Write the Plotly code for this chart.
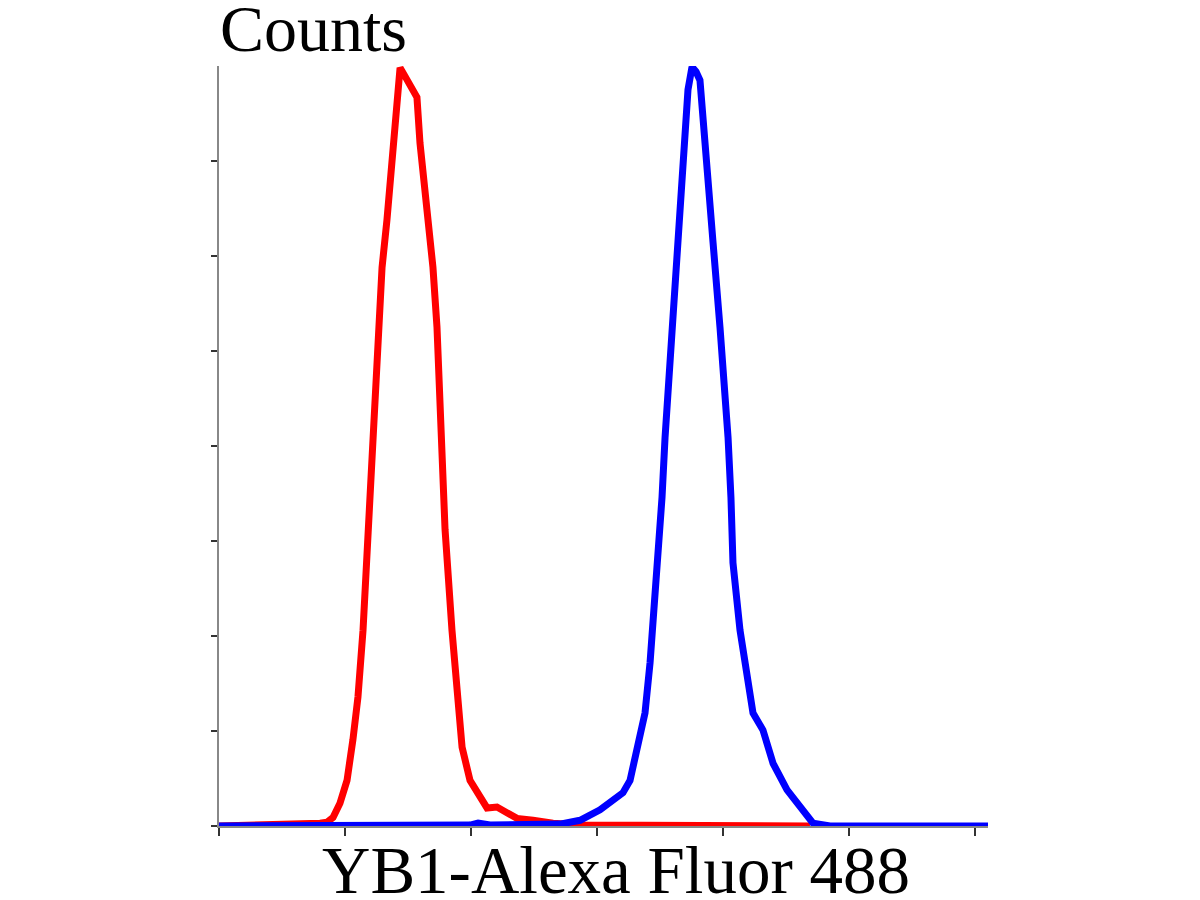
import plotly.graph_objects as go

# Red histogram (control): fluorescence position (decade units) vs counts (axis units)
red_x = [0.0, 0.683, 0.802, 0.857, 0.905, 0.960, 1.016, 1.063, 1.103, 1.143, 1.183, 1.222,
         1.254, 1.294, 1.333, 1.373, 1.405, 1.437, 1.460, 1.516, 1.571, 1.595, 1.651, 1.698,
         1.730, 1.754, 1.770, 1.794, 1.849, 1.889, 1.929, 1.992, 2.071, 2.127, 2.206, 2.286,
         2.365, 2.492, 2.651, 2.865, 4.690]
red_y = [0.0, 0.01, 0.03, 0.04, 0.09, 0.24, 0.48, 0.91, 1.36, 2.06, 3.12, 4.09,
         5.08, 5.88, 6.38, 7.01, 7.59, 7.98, 7.93, 7.80, 7.67, 7.19, 6.48, 5.88,
         5.25, 4.56, 4.09, 3.12, 2.06, 1.36, 0.83, 0.48, 0.31, 0.19, 0.20, 0.14,
         0.08, 0.06, 0.03, 0.01, 0.0]

# Blue histogram (YB1 stained)
blue_x = [0.0, 1.992, 2.056, 2.151, 2.706, 2.865, 3.024, 3.206, 3.262, 3.317, 3.381, 3.421,
          3.460, 3.484, 3.516, 3.540, 3.563, 3.603, 3.643, 3.683, 3.722, 3.754, 3.786, 3.817,
          3.873, 3.921, 3.976, 4.016, 4.040, 4.063, 4.079, 4.135, 4.190, 4.238, 4.317, 4.397,
          4.508, 4.611, 4.714, 4.849, 6.103]
blue_y = [0.0, 0.01, 0.03, 0.01, 0.02, 0.06, 0.17, 0.35, 0.48, 0.83, 1.19, 1.72,
          2.41, 2.94, 3.46, 4.09, 4.56, 5.25, 5.96, 7.01, 7.75, 7.99, 7.94, 7.85,
          7.01, 6.14, 5.25, 4.56, 4.09, 3.46, 2.77, 2.06, 1.54, 1.19, 1.01, 0.66,
          0.38, 0.20, 0.03, 0.0, 0.0]

x_ticks = [0, 1, 2, 3, 4, 5, 6]
y_ticks = [0, 1, 2, 3, 4, 5, 6, 7]
x_title = "YB1-Alexa Fluor 488"
y_title = "Counts"

fig = go.Figure()
fig.add_trace(go.Scatter(x=red_x, y=red_y, mode="lines",
                         line=dict(color="#ff0000", width=7), showlegend=False))
fig.add_trace(go.Scatter(x=blue_x, y=blue_y, mode="lines",
                         line=dict(color="#0000ff", width=7), showlegend=False))

fig.update_layout(
    width=1200, height=900,
    margin=dict(l=211, r=220, t=58, b=82, autoexpand=False),
    paper_bgcolor="white", plot_bgcolor="white",
    xaxis=dict(range=[0, 6.103], tickvals=x_ticks, showticklabels=False,
               ticks="outside", ticklen=8, tickwidth=1.5, tickcolor="#333",
               showline=True, linecolor="#888", linewidth=2,
               showgrid=False, zeroline=False, fixedrange=True),
    yaxis=dict(range=[0, 8], tickvals=y_ticks, showticklabels=False,
               ticks="outside", ticklen=6, tickwidth=1.5, tickcolor="#333",
               showline=True, linecolor="#888", linewidth=2,
               showgrid=False, zeroline=False, fixedrange=True),
    annotations=[
        dict(text=y_title, xref="paper", yref="paper", x=-0.0015, y=0.9987,
             xanchor="left", yanchor="bottom", showarrow=False,
             font=dict(family="Liberation Serif", size=66, color="black")),
        dict(text=x_title, xref="paper", yref="paper", x=0.516, y=-0.0065,
             xanchor="center", yanchor="top", showarrow=False,
             font=dict(family="Liberation Serif", size=67, color="black")),
    ],
)

fig.write_html("out.html")
